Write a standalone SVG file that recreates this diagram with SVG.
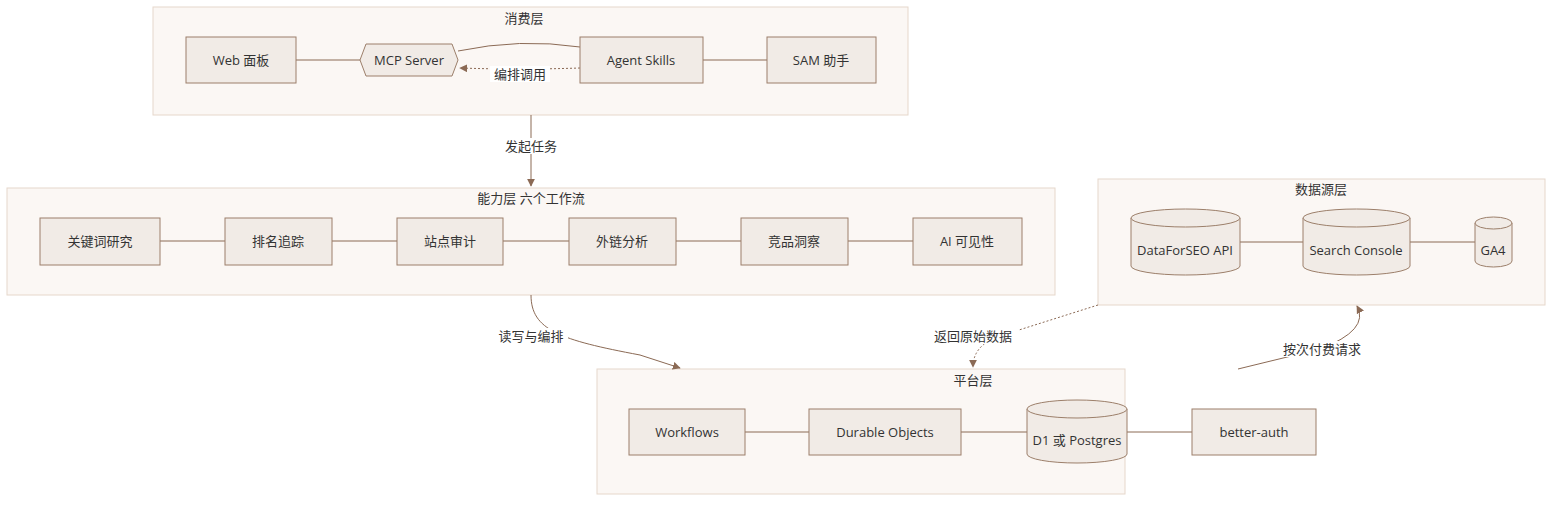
<svg xmlns="http://www.w3.org/2000/svg" width="1568" height="508" viewBox="0 0 1568 508">
<style>
text{font-family:"Open Sans","Noto Sans CJK SC",sans-serif;font-size:13px;fill:#333;text-anchor:middle;dominant-baseline:central}
.cl{fill:#fbf7f4;stroke:#e6d7cb;stroke-width:1}
.n{fill:#f1ebe6;stroke:#9c7f6a;stroke-width:1}
.e{fill:none;stroke:#8b6a55;stroke-width:1}
.d{stroke-dasharray:2 2}
.lb{fill:#fff}
</style>
<defs><marker id="a" viewBox="0 0 10 10" refX="9" refY="5" markerWidth="8" markerHeight="8" orient="auto"><path d="M0,0L10,5L0,10z" fill="#8b6a55"/></marker></defs>
<g id="clusters">
<rect class="cl" x="153" y="7" width="755" height="108"/><text x="524" y="18">消费层</text>
<rect class="cl" x="7" y="188" width="1048" height="107"/><text x="531" y="198">能力层 六个工作流</text>
<rect class="cl" x="1098" y="179" width="447" height="126"/><text x="1321" y="189">数据源层</text>
<rect class="cl" x="597" y="369" width="528" height="125"/><text x="973" y="380">平台层</text>
</g>
<g id="edges">
<path class="e" d="M296,60H360"/><path class="e" d="M703,60H767"/>
<path class="e" d="M458,51Q520,38 580,47"/>
<path class="e d" d="M580,68Q520,70 460,68" marker-end="url(#a)"/>
<rect class="lb" x="490" y="66" width="60" height="16"/><text x="520" y="74">编排调用</text>
<path class="e" d="M531,115V186" marker-end="url(#a)"/>
<rect class="lb" x="501" y="138" width="60" height="16"/><text x="531" y="146">发起任务</text>
<path class="e" d="M160,241H225M332,241H397M503,241H569M676,241H741M848,241H913"/>
<path class="e" d="M1240,242H1303M1410,242H1475"/>
<path class="e" d="M745,432H809M961,432H1027M1127,432H1192"/>
<path class="e" d="M531,295C531,330 560,340 640,355L680,368" marker-end="url(#a)"/>
<rect class="lb" x="494" y="328" width="74" height="16"/><text x="531" y="336">读写与编排</text>
<path class="e d" d="M1098,305L1000,336Q973,345 973,367" marker-end="url(#a)"/>
<rect class="lb" x="928" y="328" width="90" height="16"/><text x="973" y="336">返回原始数据</text>
<path class="e" d="M1238,369L1320,349Q1370,330 1357,306" marker-end="url(#a)"/>
<rect class="lb" x="1277" y="341" width="90" height="16"/><text x="1322" y="349">按次付费请求</text>
</g>
<g id="web"><rect class="n" x="186" y="37" width="110" height="46"/><text x="241" y="60">Web 面板</text></g>
<g id="mcp"><path class="n" d="M366,44H452L458,60L452,76H366L360,60z"/><text x="409" y="60">MCP Server</text></g>
<g id="agent"><rect class="n" x="580" y="37" width="123" height="46"/><text x="641" y="60">Agent Skills</text></g>
<g id="sam"><rect class="n" x="767" y="37" width="109" height="46"/><text x="821" y="60">SAM 助手</text></g>
<g id="kw"><rect class="n" x="40" y="218" width="120" height="47"/><text x="100" y="241">关键词研究</text></g>
<g id="rank"><rect class="n" x="225" y="218" width="107" height="47"/><text x="278" y="241">排名追踪</text></g>
<g id="audit"><rect class="n" x="397" y="218" width="106" height="47"/><text x="450" y="241">站点审计</text></g>
<g id="link"><rect class="n" x="569" y="218" width="107" height="47"/><text x="622" y="241">外链分析</text></g>
<g id="comp"><rect class="n" x="741" y="218" width="107" height="47"/><text x="794" y="241">竞品洞察</text></g>
<g id="ai"><rect class="n" x="913" y="218" width="109" height="47"/><text x="967" y="241">AI 可见性</text></g>
<g id="dfs"><path class="n" d="M1131,218A54.5,9 0 0 1 1240,218V266A54.5,9 0 0 1 1131,266z"/><path class="n" d="M1131,218A54.5,9 0 0 0 1240,218"/><text x="1185" y="250">DataForSEO API</text></g>
<g id="gsc"><path class="n" d="M1303,218A53.5,9 0 0 1 1410,218V266A53.5,9 0 0 1 1303,266z"/><path class="n" d="M1303,218A53.5,9 0 0 0 1410,218"/><text x="1356" y="250">Search Console</text></g>
<g id="ga4"><path class="n" d="M1475,223A18.5,6 0 0 1 1512,223V261A18.5,6 0 0 1 1475,261z"/><path class="n" d="M1475,223A18.5,6 0 0 0 1512,223"/><text x="1493" y="250">GA4</text></g>
<g id="wf"><rect class="n" x="629" y="409" width="116" height="46"/><text x="687" y="432">Workflows</text></g>
<g id="do"><rect class="n" x="809" y="409" width="152" height="46"/><text x="885" y="432">Durable Objects</text></g>
<g id="db"><path class="n" d="M1027,409A50,9 0 0 1 1127,409V454A50,9 0 0 1 1027,454z"/><path class="n" d="M1027,409A50,9 0 0 0 1127,409"/><text x="1077" y="440">D1 或 Postgres</text></g>
<g id="auth"><rect class="n" x="1192" y="409" width="124" height="46"/><text x="1254" y="432">better-auth</text></g>
</svg>
